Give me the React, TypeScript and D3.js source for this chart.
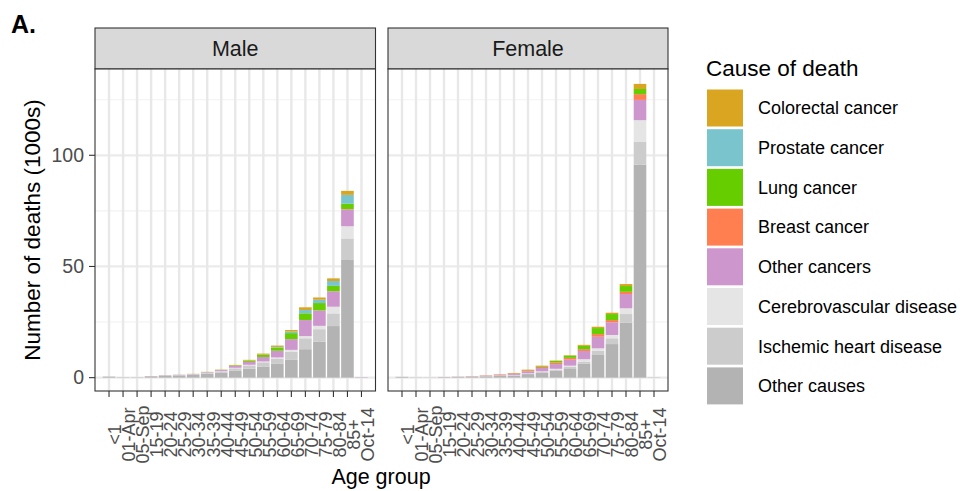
import * as d3 from "d3";

const ageGroups = [
  "<1", "01-Apr", "05-Sep", "15-19", "20-24", "25-29", "30-34", "35-39", "40-44",
  "45-49", "50-54", "55-59", "60-64", "65-69", "70-74", "75-79", "80-84", "85+", "Oct-14",
];

// stacking order, bottom first
const causes = [
  "Other causes",
  "Ischemic heart disease",
  "Cerebrovascular disease",
  "Other cancers",
  "Breast cancer",
  "Lung cancer",
  "Prostate cancer",
  "Colorectal cancer",
];

const causeColors = ["#B3B3B3", "#CCCCCC", "#E5E5E5", "#CD96CD", "#FF7F50", "#66CD00", "#7AC5CD", "#DAA520"];

const sexes = ["Male", "Female"];

// deaths in 1000s, one value per age group
const maleOtherCauses = [0.45, 0.15, 0.12, 0.6, 0.95, 1.05, 1.3, 1.8, 2.3, 3.2, 4.0, 5.0, 6.2, 8.0, 12.8, 16.2, 23.2, 53.2, 0.15];
const maleIschemic = [0, 0, 0, 0.01, 0.05, 0.1, 0.15, 0.35, 0.6, 1.0, 1.5, 1.9, 2.4, 3.7, 4.9, 5.6, 5.7, 9.4, 0];
const maleCerebro = [0.01, 0.01, 0.01, 0.02, 0.03, 0.04, 0.05, 0.1, 0.15, 0.25, 0.3, 0.4, 0.5, 0.8, 1.0, 1.5, 3.0, 5.5, 0.01];
const maleOtherCancers = [0.02, 0.03, 0.05, 0.06, 0.08, 0.1, 0.15, 0.25, 0.4, 0.8, 1.3, 2.0, 3.0, 4.8, 7.2, 6.9, 6.9, 7.5, 0.08];
const maleBreast = [0, 0, 0, 0, 0, 0, 0, 0, 0, 0.01, 0.01, 0.02, 0.02, 0.03, 0.04, 0.05, 0.06, 0.2, 0];
const maleLung = [0, 0, 0, 0, 0, 0.01, 0.02, 0.03, 0.06, 0.25, 0.5, 0.9, 1.4, 2.7, 3.0, 3.3, 2.4, 2.4, 0];
const maleProstate = [0, 0, 0, 0, 0, 0, 0, 0, 0.01, 0.02, 0.05, 0.1, 0.3, 0.7, 1.5, 1.5, 2.2, 4.0, 0];
const maleColorectal = [0, 0, 0, 0.01, 0.02, 0.03, 0.05, 0.08, 0.1, 0.2, 0.35, 0.5, 0.6, 0.7, 1.2, 1.0, 1.2, 1.8, 0];

const femaleOtherCauses = [0.35, 0.1, 0.07, 0.25, 0.35, 0.45, 0.6, 0.8, 1.0, 1.6, 2.3, 3.2, 4.2, 6.2, 10.2, 15.1, 24.7, 95.8, 0.1];
const femaleIschemic = [0, 0, 0, 0, 0.01, 0.02, 0.03, 0.05, 0.1, 0.15, 0.25, 0.4, 0.6, 1.0, 1.9, 2.6, 3.9, 10.2, 0];
const femaleCerebro = [0.01, 0.01, 0.01, 0.02, 0.03, 0.05, 0.07, 0.1, 0.15, 0.2, 0.3, 0.4, 0.6, 1.1, 1.1, 1.5, 2.6, 9.8, 0.01];
const femaleOtherCancers = [0.02, 0.03, 0.03, 0.05, 0.07, 0.1, 0.2, 0.3, 0.45, 0.9, 1.5, 2.1, 2.7, 3.7, 5.2, 5.7, 6.4, 9.1, 0.04];
const femaleBreast = [0, 0, 0, 0, 0.01, 0.05, 0.1, 0.2, 0.3, 0.5, 0.6, 0.7, 0.8, 0.8, 1.2, 1.0, 1.0, 2.6, 0];
const femaleLung = [0, 0, 0, 0, 0, 0, 0.01, 0.02, 0.05, 0.15, 0.35, 0.7, 1.0, 1.5, 2.7, 2.7, 2.6, 2.3, 0];
const femaleProstate = [0, 0, 0, 0, 0, 0, 0, 0, 0, 0, 0, 0, 0, 0, 0, 0, 0, 0, 0];
const femaleColorectal = [0, 0, 0, 0, 0.01, 0.02, 0.04, 0.05, 0.05, 0.1, 0.1, 0.2, 0.2, 0.45, 0.6, 0.6, 0.9, 2.3, 0];

const yTicks = [0, 50, 100];
const yMinorTicks = [25, 75, 125];

const seriesBySex = {
  Male: [maleOtherCauses, maleIschemic, maleCerebro, maleOtherCancers, maleBreast, maleLung, maleProstate, maleColorectal],
  Female: [femaleOtherCauses, femaleIschemic, femaleCerebro, femaleOtherCancers, femaleBreast, femaleLung, femaleProstate, femaleColorectal],
};

const W = 963;
const H = 491;
const panelTop = 69;
const panelBottom = 391;
const stripTop = 28;
const panelX = { Male: [95, 375.5], Female: [388, 668] };
const font = "'Liberation Sans', Arial, Helvetica, sans-serif";

function rows(sex: string) {
  const s = seriesBySex[sex];
  return ageGroups.map((g, i) => {
    const r: any = { age: g };
    causes.forEach((c, k) => (r[c] = s[k][i]));
    return r;
  });
}

const y = d3.scaleLinear().domain([-6, 138.8]).range([panelBottom, panelTop]);

function Panel({ sex }: { sex: string }) {
  const [x0, x1] = panelX[sex];
  const x = d3.scaleBand().domain(ageGroups).range([x0, x1]).paddingInner(0.1).paddingOuter(0.55).align(0.5);
  const cx = (g: string) => x(g)! + x.bandwidth() / 2;
  const stack = d3.stack().keys(causes)(rows(sex));
  return (
    <g>
      <rect x={x0} y={stripTop} width={x1 - x0} height={panelTop - stripTop} fill="#D9D9D9" stroke="#333333" strokeWidth={1.1} />
      <text x={(x0 + x1) / 2} y={(stripTop + panelTop) / 2} dy="0.36em" textAnchor="middle" fontSize={21.5} fill="#1A1A1A">
        {sex}
      </text>
      <rect x={x0} y={panelTop} width={x1 - x0} height={panelBottom - panelTop} fill="#FFFFFF" />
      {yMinorTicks.map((t) => (
        <line key={"m" + t} x1={x0} x2={x1} y1={y(t)} y2={y(t)} stroke="#F2F2F2" strokeWidth={1.1} />
      ))}
      {yTicks.map((t) => (
        <line key={"y" + t} x1={x0} x2={x1} y1={y(t)} y2={y(t)} stroke="#EBEBEB" strokeWidth={2.2} />
      ))}
      {ageGroups.map((g) => (
        <line key={"v" + g} x1={cx(g)} x2={cx(g)} y1={panelTop} y2={panelBottom} stroke="#E8E8E8" strokeWidth={2.4} />
      ))}
      {stack.map((layer, k) => (
        <g key={causes[k]} fill={causeColors[k]}>
          {layer.map((d, i) => (
            <rect
              key={i}
              x={x(ageGroups[i])}
              y={y(d[1])}
              width={x.bandwidth()}
              height={Math.max(0, y(d[0]) - y(d[1]))}
            />
          ))}
        </g>
      ))}
      <rect x={x0} y={panelTop} width={x1 - x0} height={panelBottom - panelTop} fill="none" stroke="#333333" strokeWidth={1.1} />
      {ageGroups.map((g) => (
        <g key={"t" + g}>
          <line x1={cx(g)} x2={cx(g)} y1={panelBottom} y2={panelBottom + 6} stroke="#333333" strokeWidth={1.1} />
          <text
            transform={`translate(${cx(g) + 6},434.5) rotate(-90)`}
            textAnchor="middle"
            dy="0.35em"
            fontSize={18}
            fill="#4D4D4D"
          >
            {g}
          </text>
        </g>
      ))}
    </g>
  );
}

export default function App() {
  const legendItems = causes.map((c, k) => ({ c, color: causeColors[k] })).reverse();
  return (
    <svg width={W} height={H} style={{ position: "absolute", left: 0, top: 0, background: "#fff" }} fontFamily={font}>
      <text x={11} y={33} fontSize={25} fontWeight="bold" fill="#000">A.</text>
      {sexes.map((s) => (
        <Panel key={s} sex={s} />
      ))}
      {yTicks.map((t) => (
        <g key={t}>
          <line x1={89} x2={95} y1={y(t)} y2={y(t)} stroke="#333333" strokeWidth={1.1} />
          <text x={84} y={y(t)} dy="0.35em" textAnchor="end" fontSize={19.5} fill="#4D4D4D">{t}</text>
        </g>
      ))}
      <text transform={`translate(40,${(panelTop + panelBottom) / 2}) rotate(-90)`} textAnchor="middle" fontSize={22.5} fill="#000">
        Number of deaths (1000s)
      </text>
      <text x={381} y={484} textAnchor="middle" fontSize={21.5} fill="#000">Age group</text>
      <text x={706} y={76} fontSize={22.5} fill="#000">Cause of death</text>
      {legendItems.map((it, i) => (
        <g key={it.c} transform={`translate(707,${108 + 39.7 * i})`}>
          <rect x={0} y={-18.5} width={36} height={37} fill={it.color} />
          <text x={51} y={0} dy="0.35em" fontSize={18} fill="#000">{it.c}</text>
        </g>
      ))}
    </svg>
  );
}
